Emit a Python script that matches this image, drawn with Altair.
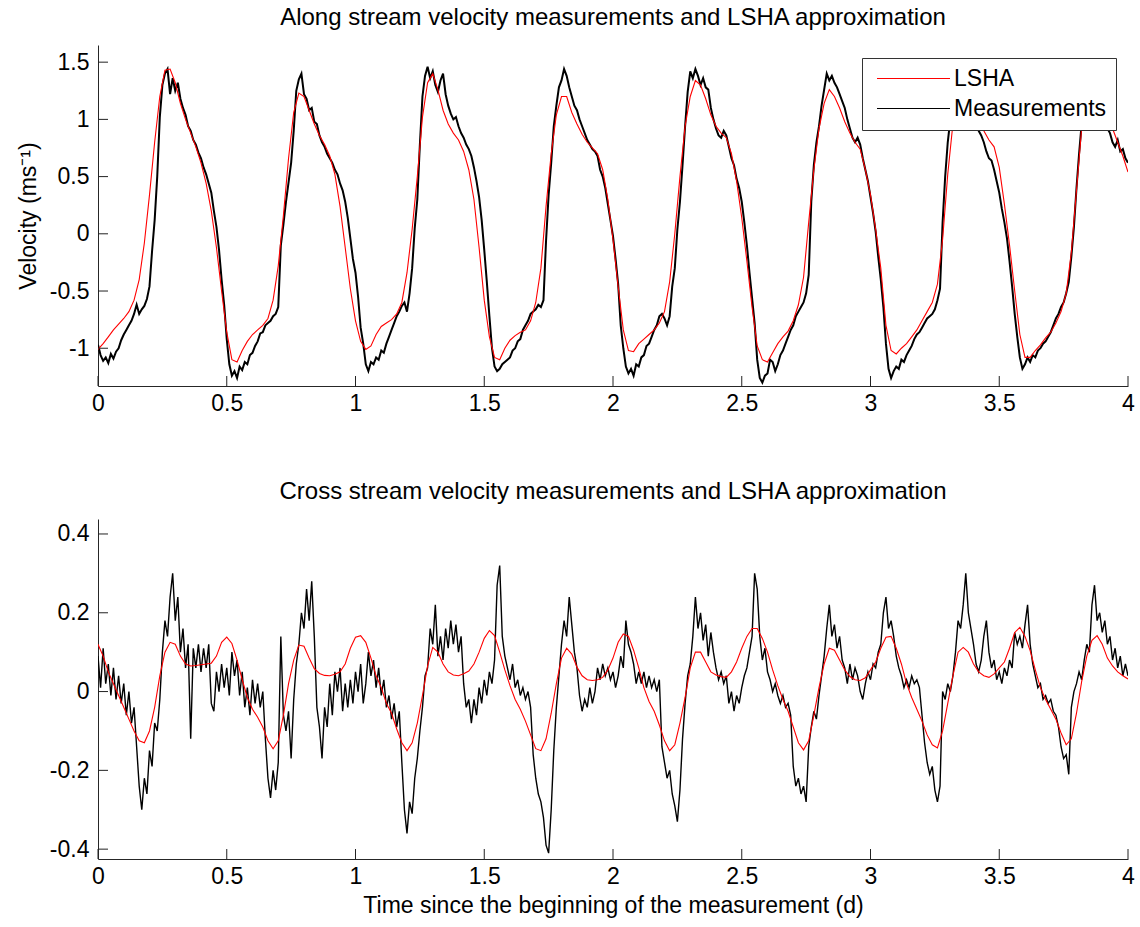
import altair as alt
import pandas as pd

# ---------------- data ----------------
# sampling times (days)
t_meas = [i / 100 for i in range(401)]
t_lsha = [i / 50 for i in range(201)]

x_tick_values = [0, 0.5, 1, 1.5, 2, 2.5, 3, 3.5, 4]
top_y_ticks = [-1, -0.5, 0, 0.5, 1, 1.5]
bot_y_ticks = [-0.4, -0.2, 0, 0.2, 0.4]

# along-stream velocity, measurements (every 0.01 d)
top_meas = [
    -0.97, -1.06, -1.11, -1.08, -1.13, -1.05, -1.09, -1.03, -1.00, -0.93,
    -0.88, -0.84, -0.80, -0.76, -0.70, -0.62, -0.70, -0.66, -0.63, -0.57,
    -0.46, -0.15, 0.12, 0.50, 1.02, 1.30, 1.40, 1.44, 1.22, 1.36,
    1.25, 1.32, 1.18, 1.10, 1.04, 0.94, 0.90, 0.82, 0.78, 0.71,
    0.66, 0.58, 0.52, 0.44, 0.36, 0.20, 0.06, -0.14, -0.40, -0.62,
    -0.92, -1.14, -1.24, -1.20, -1.26, -1.16, -1.19, -1.12, -1.14, -1.06,
    -1.04, -0.98, -0.94, -0.87, -0.86, -0.80, -0.78, -0.76, -0.72, -0.70,
    -0.64, -0.10, 0.08, 0.28, 0.45, 0.62, 0.90, 1.25, 1.35, 1.40,
    1.22, 1.18, 1.08, 1.10, 0.98, 0.96, 0.86, 0.80, 0.76, 0.70,
    0.66, 0.62, 0.56, 0.52, 0.44, 0.38, 0.28, 0.14, -0.04, -0.22,
    -0.34, -0.55, -0.82, -0.96, -1.14, -1.20, -1.12, -1.14, -1.08, -1.10,
    -1.02, -1.04, -0.96, -0.90, -0.84, -0.78, -0.72, -0.68, -0.63, -0.60,
    -0.68, -0.52, -0.30, 0.05, 0.30, 0.78, 1.20, 1.38, 1.46, 1.36,
    1.42, 1.30, 1.24, 1.34, 1.40, 1.22, 1.12, 1.05, 1.00, 1.02,
    0.94, 0.88, 0.84, 0.78, 0.74, 0.68, 0.58, 0.46, 0.32, 0.12,
    -0.14, -0.42, -0.72, -1.00, -1.16, -1.20, -1.18, -1.14, -1.12, -1.10,
    -1.08, -1.02, -1.00, -0.94, -0.92, -0.84, -0.80, -0.76, -0.70, -0.68,
    -0.66, -0.62, -0.64, -0.58, -0.06, 0.34, 0.62, 0.94, 1.12, 1.28,
    1.34, 1.44, 1.38, 1.28, 1.20, 1.12, 1.08, 1.00, 0.94, 0.88,
    0.82, 0.78, 0.74, 0.72, 0.68, 0.56, 0.50, 0.40, 0.26, 0.12,
    -0.02, -0.22, -0.44, -0.80, -1.00, -1.16, -1.22, -1.18, -1.24, -1.14,
    -1.16, -1.08, -1.06, -0.98, -0.96, -0.90, -0.84, -0.80, -0.72, -0.70,
    -0.74, -0.80, -0.72, -0.46, -0.30, 0.04, 0.28, 0.60, 0.94, 1.24,
    1.42, 1.36, 1.44, 1.38, 1.30, 1.36, 1.28, 1.26, 1.10, 1.00,
    0.92, 0.86, 0.84, 0.90, 0.86, 0.76, 0.66, 0.60, 0.48, 0.40,
    0.28, 0.10, -0.10, -0.34, -0.56, -0.78, -1.10, -1.26, -1.30, -1.24,
    -1.22, -1.10, -1.12, -1.20, -1.14, -1.06, -1.02, -0.96, -0.90, -0.84,
    -0.80, -0.72, -0.68, -0.64, -0.60, -0.52, -0.36, 0.28, 0.60, 0.80,
    0.94, 1.12, 1.26, 1.40, 1.34, 1.38, 1.32, 1.28, 1.22, 1.16,
    1.10, 1.00, 0.92, 0.84, 0.80, 0.84, 0.78, 0.66, 0.56, 0.46,
    0.32, 0.18, 0.02, -0.20, -0.40, -0.64, -0.96, -1.18, -1.26, -1.20,
    -1.16, -1.18, -1.10, -1.12, -1.06, -1.02, -0.98, -0.92, -0.88, -0.86,
    -0.82, -0.78, -0.74, -0.72, -0.70, -0.66, -0.58, -0.48, 0.10, 0.50,
    0.80, 1.00, 1.20, 1.32, 1.42, 1.45, 1.38, 1.30, 1.22, 1.10,
    1.02, 0.96, 0.90, 0.86, 0.80, 0.72, 0.66, 0.64, 0.56, 0.46,
    0.36, 0.22, 0.10, -0.04, -0.24, -0.46, -0.70, -0.90, -1.08, -1.18,
    -1.14, -1.08, -1.12, -1.06, -1.08, -1.02, -1.00, -0.96, -0.94, -0.90,
    -0.86, -0.80, -0.74, -0.70, -0.64, -0.60, -0.52, -0.42, -0.20, 0.06,
    0.40, 0.70, 0.96, 1.18, 1.30, 1.40, 1.44, 1.38, 1.34, 1.20,
    1.10, 1.00, 0.92, 0.88, 0.80, 0.76, 0.82, 0.72, 0.74, 0.66,
    0.62,
]

# along-stream velocity, LSHA approximation (every 0.02 d)
top_lsha = [
    -1.01, -0.96, -0.90, -0.84, -0.79, -0.74, -0.68, -0.58, -0.40, -0.08,
    0.34, 0.80, 1.20, 1.43, 1.44, 1.32, 1.14, 1.00, 0.88, 0.76,
    0.62, 0.44, 0.20, -0.12, -0.50, -0.86, -1.10, -1.12, -1.02, -0.94,
    -0.88, -0.84, -0.80, -0.74, -0.58, -0.28, 0.16, 0.66, 1.06, 1.23,
    1.20, 1.08, 0.96, 0.86, 0.78, 0.68, 0.52, 0.24, -0.12, -0.48,
    -0.76, -0.94, -1.01, -0.98, -0.88, -0.81, -0.78, -0.75, -0.70, -0.60,
    -0.34, 0.04, 0.50, 1.02, 1.32, 1.40, 1.26, 1.08, 0.96, 0.88,
    0.82, 0.72, 0.56, 0.30, -0.12, -0.58, -0.90, -1.08, -1.10, -1.00,
    -0.93, -0.89, -0.86, -0.84, -0.76, -0.60, -0.30, 0.24, 0.70, 1.04,
    1.20, 1.20, 1.06, 0.96, 0.87, 0.80, 0.75, 0.70, 0.56, 0.30,
    -0.05, -0.46, -0.84, -1.02, -1.03, -0.96, -0.92, -0.88, -0.84, -0.78,
    -0.68, -0.42, 0.00, 0.50, 0.94, 1.20, 1.34, 1.30, 1.18, 1.04,
    0.94, 0.88, 0.84, 0.70, 0.46, 0.14, -0.24, -0.64, -0.98, -1.10,
    -1.12, -1.04, -0.96, -0.90, -0.85, -0.76, -0.62, -0.38, 0.10, 0.56,
    0.92, 1.14, 1.26, 1.20, 1.10, 0.98, 0.88, 0.80, 0.74, 0.56,
    0.34, 0.04, -0.30, -0.80, -1.02, -1.05, -1.00, -0.96, -0.90, -0.84,
    -0.76, -0.68, -0.60, -0.44, -0.05, 0.52, 0.96, 1.22, 1.32, 1.30,
    1.18, 1.02, 0.90, 0.82, 0.76, 0.58, 0.26, -0.10, -0.50, -0.88,
    -1.08, -1.08, -1.02, -0.97, -0.91, -0.86, -0.78, -0.68, -0.52, -0.16,
    0.38, 0.92, 1.18, 1.28, 1.30, 1.22, 1.06, 0.92, 0.80, 0.68,
    0.54,
]

# cross-stream velocity, measurements (every 0.01 d)
bot_meas = [
    0.09, 0.01, 0.11, 0.02, 0.07, -0.01, 0.06, -0.02, 0.04, -0.03,
    0.02, -0.06, 0.00, -0.08, -0.04, -0.14, -0.24, -0.30, -0.22, -0.26,
    -0.15, -0.19, -0.08, -0.10, -0.02, 0.10, 0.18, 0.14, 0.24, 0.30,
    0.18, 0.24, 0.10, 0.16, 0.06, 0.12, -0.12, 0.11, 0.06, 0.12,
    0.05, 0.11, 0.06, 0.12, -0.03, -0.05, 0.05, 0.00, 0.07, 0.01,
    0.06, -0.01, 0.10, 0.04, 0.08, -0.01, 0.05, -0.04, 0.01, -0.06,
    0.03, -0.03, 0.02, -0.04, 0.00, -0.12, -0.22, -0.27, -0.20, -0.25,
    -0.18, 0.14, -0.06, -0.10, -0.05, -0.17, -0.02, 0.07, 0.12, 0.20,
    0.16, 0.26, 0.18, 0.28, 0.14, -0.04, -0.09, -0.17, -0.04, -0.09,
    0.02, -0.06, 0.05, 0.00, 0.06, -0.05, 0.02, -0.04, 0.03, -0.03,
    0.05, 0.00, 0.07, -0.03, 0.02, 0.10, 0.04, 0.08, 0.01, 0.06,
    -0.01, 0.03, -0.04, -0.01, -0.07, -0.03, -0.09, -0.05, -0.18, -0.30,
    -0.36, -0.28, -0.31, -0.22, -0.17, -0.10, -0.04, 0.04, 0.06, 0.16,
    0.12, 0.22, 0.09, 0.14, 0.08, 0.16, 0.11, 0.18, 0.12, 0.17,
    0.10, 0.14, 0.02, -0.04, -0.02, -0.08, -0.02, -0.06, 0.01, -0.03,
    0.03, -0.01, 0.05, 0.02, 0.08, 0.27, 0.32, 0.14, 0.09, 0.06,
    0.03, 0.07, 0.01, 0.03, -0.01, 0.01, -0.02, 0.00, -0.04, -0.16,
    -0.22, -0.26, -0.28, -0.32, -0.39, -0.41, -0.30, -0.15, -0.04, 0.04,
    0.12, 0.18, 0.14, 0.24, 0.17, 0.10, 0.06, -0.01, -0.05, -0.02,
    -0.04, 0.01, -0.03, 0.00, 0.06, 0.03, 0.07, 0.04, 0.06, 0.03,
    0.05, 0.01, 0.04, 0.09, 0.06, 0.18, 0.12, 0.10, 0.07, 0.02,
    0.05, 0.02, 0.05, 0.01, 0.04, 0.01, 0.03, 0.00, 0.03, -0.14,
    -0.18, -0.22, -0.20, -0.26, -0.29, -0.33, -0.25, -0.12, -0.03, 0.04,
    0.07, 0.14, 0.24, 0.16, 0.20, 0.13, 0.17, 0.09, 0.15, 0.10,
    0.06, 0.03, 0.05, 0.02, 0.04, -0.03, 0.00, -0.05, -0.01, -0.03,
    0.01, 0.04, 0.06, 0.10, 0.14, 0.30, 0.26, 0.14, 0.08, 0.11,
    0.05, 0.03, 0.00, 0.02, -0.01, -0.03, -0.01, -0.04, -0.03, -0.06,
    -0.19, -0.24, -0.22, -0.26, -0.24, -0.28, -0.14, -0.09, -0.05, -0.07,
    -0.01, 0.04, 0.09, 0.16, 0.22, 0.14, 0.17, 0.11, 0.14, 0.08,
    0.06, 0.02, 0.07, 0.03, 0.06, 0.04, 0.00, -0.02, 0.02, 0.05,
    0.03, 0.07, 0.06, 0.10, 0.12, 0.20, 0.24, 0.16, 0.18, 0.14,
    0.09, 0.06, 0.04, 0.01, 0.03, 0.01, 0.04, 0.02, 0.03, 0.01,
    -0.06, -0.13, -0.18, -0.21, -0.19, -0.25, -0.28, -0.24, 0.00, -0.02,
    0.02, 0.00, 0.04, 0.10, 0.18, 0.16, 0.22, 0.30, 0.20, 0.16,
    0.12, 0.07, 0.05, 0.08, 0.14, 0.18, 0.10, 0.06, 0.08, 0.03,
    0.05, 0.02, 0.06, 0.04, 0.08, 0.06, 0.15, 0.12, 0.14, 0.11,
    0.17, 0.22, 0.12, 0.07, 0.04, 0.01, 0.02, -0.02, -0.01, -0.03,
    -0.02, -0.05, -0.06, -0.09, -0.14, -0.17, -0.16, -0.21, -0.04, 0.00,
    0.02, 0.05, 0.03, 0.08, 0.12, 0.10, 0.22, 0.27, 0.18, 0.20,
    0.15, 0.18, 0.12, 0.14, 0.08, 0.11, 0.06, 0.09, 0.04, 0.07,
    0.04,
]

# cross-stream velocity, LSHA approximation (every 0.02 d)
bot_lsha = [
    0.12, 0.09, 0.05, 0.02, -0.01, -0.04, -0.07, -0.10, -0.125, -0.13,
    -0.10, -0.04, 0.04, 0.10, 0.125, 0.12, 0.09, 0.07, 0.065, 0.066,
    0.068, 0.07, 0.072, 0.09, 0.125, 0.138, 0.122, 0.08, 0.03, -0.015,
    -0.045, -0.065, -0.09, -0.125, -0.145, -0.125, -0.06, 0.02, 0.08, 0.118,
    0.115, 0.085, 0.058, 0.046, 0.041, 0.040, 0.044, 0.05, 0.07, 0.11,
    0.138, 0.142, 0.125, 0.085, 0.04, 0.01, -0.03, -0.055, -0.095, -0.13,
    -0.15, -0.13, -0.08, -0.01, 0.065, 0.112, 0.10, 0.07, 0.05, 0.042,
    0.04, 0.045, 0.052, 0.07, 0.10, 0.135, 0.155, 0.142, 0.10, 0.055,
    0.015, -0.02, -0.045, -0.075, -0.11, -0.145, -0.15, -0.12, -0.055, 0.02,
    0.085, 0.11, 0.095, 0.062, 0.04, 0.03, 0.028, 0.03, 0.036, 0.055,
    0.085, 0.125, 0.146, 0.14, 0.105, 0.06, 0.01, -0.025, -0.05, -0.085,
    -0.125, -0.15, -0.135, -0.08, -0.015, 0.06, 0.10, 0.10, 0.075, 0.05,
    0.042, 0.038, 0.036, 0.05, 0.075, 0.11, 0.14, 0.16, 0.16, 0.135,
    0.10, 0.055, 0.015, -0.02, -0.05, -0.09, -0.13, -0.148, -0.125, -0.06,
    0.01, 0.07, 0.11, 0.105, 0.08, 0.055, 0.038, 0.03, 0.028, 0.035,
    0.055, 0.075, 0.11, 0.138, 0.14, 0.11, 0.07, 0.02, -0.015, -0.045,
    -0.075, -0.11, -0.135, -0.143, -0.10, -0.03, 0.04, 0.10, 0.112, 0.10,
    0.07, 0.05, 0.04, 0.036, 0.045, 0.06, 0.075, 0.11, 0.15, 0.163,
    0.14, 0.104, 0.055, 0.01, -0.02, -0.045, -0.07, -0.105, -0.135, -0.12,
    -0.055, 0.025, 0.09, 0.13, 0.142, 0.12, 0.085, 0.065, 0.05, 0.04,
    0.032,
]

assert len(top_meas) == len(t_meas) and len(bot_meas) == len(t_meas)
assert len(top_lsha) == len(t_lsha) and len(bot_lsha) == len(t_lsha)

# ---------------- styling ----------------
FONT = "Liberation Sans"
FS = 23
TFS = 24
W, H_TOP, H_BOT = 1030, 341, 340
RED = "#ff0000"
INK = "#000000"


def panel(meas, lsha, ydom, yticks, height, title, ytitle, xtitle, legend):
    dm = pd.DataFrame({"t": t_meas, "v": meas, "series": "Measurements"})
    dl = pd.DataFrame({"t": t_lsha, "v": lsha, "series": "LSHA"})

    x_axis = dict(values=x_tick_values, labelExpr="'' + datum.value",
                  ticks=False, tickSize=0, grid=False, labelPadding=6,
                  labelFlush=False, title=xtitle)
    if xtitle:
        x_axis.update(titlePadding=6)
    y_axis = dict(values=yticks, labelExpr="'' + datum.value",
                  ticks=False, tickSize=0, grid=False, labelPadding=9,
                  title=ytitle)
    if ytitle:
        y_axis.update(titleX=-58, titleBaseline="bottom")

    x = alt.X("t:Q", scale=alt.Scale(domain=[0, 4], nice=False, zero=False),
              axis=alt.Axis(**x_axis))
    y = alt.Y("v:Q", scale=alt.Scale(domain=ydom, nice=False, zero=False),
              axis=alt.Axis(**y_axis))

    if legend:
        color = alt.Color(
            "series:N",
            scale=alt.Scale(domain=["LSHA", "Measurements"], range=[RED, INK]),
            legend=alt.Legend(
                title=None, orient="none", legendX=764, legendY=13,
                fillColor="white", strokeColor="#333333", padding=9,
                symbolType="M-4,0L4,0", symbolSize=333, symbolStrokeWidth=1.2,
                symbolOffset=31, labelOffset=29,
                labelFont=FONT, labelFontSize=FS, labelColor="black",
                rowPadding=6, cornerRadius=0, labelLimit=400,
            ),
        )
        m_line = alt.Chart(dm).mark_line(strokeWidth=2.0, clip=True).encode(x=x, y=y, color=color)
        l_line = alt.Chart(dl).mark_line(strokeWidth=1.1, clip=True).encode(x=x, y=y, color=color)
    else:
        m_line = alt.Chart(dm).mark_line(strokeWidth=1.4, color=INK, clip=True).encode(x=x, y=y)
        l_line = alt.Chart(dl).mark_line(strokeWidth=1.1, color=RED, clip=True).encode(x=x, y=y)

    yt = alt.Chart(pd.DataFrame({"v": yticks})).mark_rule(color="#222222", strokeWidth=1).encode(
        y=y, x=alt.value(0), x2=alt.value(10))
    xt = alt.Chart(pd.DataFrame({"t": x_tick_values})).mark_rule(color="#222222", strokeWidth=1).encode(
        x=x, y=alt.value(height), y2=alt.value(height - 10))

    return alt.layer(m_line, l_line, yt, xt).properties(
        width=W, height=height,
        title=alt.TitleParams(text=title, font=FONT, fontSize=TFS, fontWeight="normal",
                              color="black", offset=-4, baseline="alphabetic"),
    )


top = panel(top_meas, top_lsha, [-1.33, 1.65], top_y_ticks, H_TOP,
            "Along stream velocity measurements and LSHA approximation",
            "Velocity (ms\u207b\u00b9)", None, True)
bottom = panel(bot_meas, bot_lsha, [-0.425, 0.438], bot_y_ticks, H_BOT,
               "Cross stream velocity measurements and LSHA approximation",
               None, "Time since the beginning of the measurement (d)", False)

chart = alt.vconcat(top, bottom, spacing=133, bounds="flush").properties(
    padding={"left": 17, "top": 6, "right": 2, "bottom": 2},
    background="white",
).configure_view(stroke=None).configure_axis(
    labelFont=FONT, titleFont=FONT, labelFontSize=FS, titleFontSize=FS,
    labelColor="black", titleColor="black", titleFontWeight="normal",
    domainColor="#262626", domainWidth=1,
)

chart.save("out.html", embed_options={"renderer": "svg", "actions": False})
